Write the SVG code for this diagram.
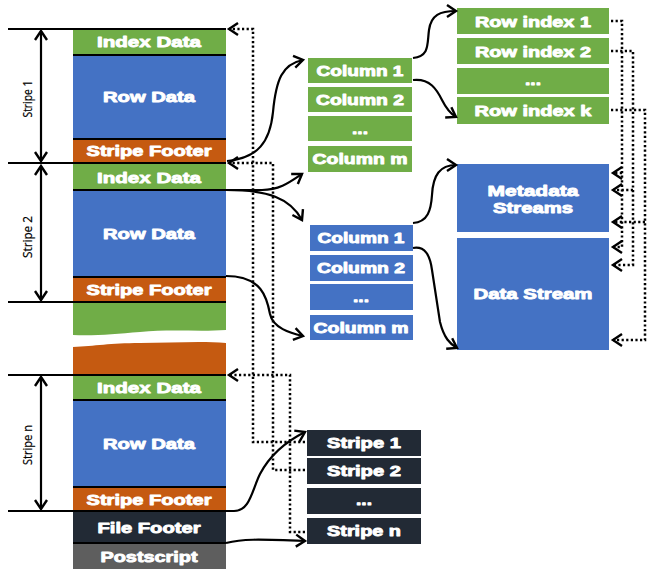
<svg xmlns="http://www.w3.org/2000/svg" width="648" height="569" viewBox="0 0 648 569">
<style>
.g{fill:#70AD47}.b{fill:#4472C4}.o{fill:#C55A11}.d{fill:#222A35}.p{fill:#5E5E5E}
.t{font-family:"Liberation Sans",Arial,sans-serif;font-weight:bold;font-size:15px;fill:#fff;stroke:#fff;stroke-width:0.9;stroke-linejoin:round;text-anchor:middle}
.lab{font-family:"Open Sans","Liberation Sans",sans-serif;font-size:13px;fill:#000;stroke:#000;stroke-width:0.2;text-anchor:middle}
.sep{stroke:#000;stroke-width:2;fill:none}
.hl{stroke:#000;stroke-width:2.2;fill:none}
.c{stroke:#000;stroke-width:2.2;fill:none}
.dot{stroke:#000;stroke-width:2.5;fill:none;stroke-dasharray:2.2 2.4}
</style>
<defs>
<marker id="ah" markerUnits="userSpaceOnUse" markerWidth="18" markerHeight="18" viewBox="-13 -9 15 18" refX="0" refY="0" orient="auto-start-reverse">
<path d="M-9,-6 L0,0 L-9,6" fill="none" stroke="#000" stroke-width="2.4" stroke-linejoin="miter"/>
</marker>
</defs>

<g id="stripe1">
<rect class="g" x="73" y="29" width="153" height="26"/>
<rect class="b" x="73" y="55" width="153" height="84"/>
<rect class="o" x="73" y="139" width="153" height="24"/>
<line class="sep" x1="73" y1="55" x2="226" y2="55"/>
<line class="sep" x1="73" y1="139" x2="226" y2="139"/>
<text class="t" x="149" y="47" textLength="104" lengthAdjust="spacingAndGlyphs">Index Data</text>
<text class="t" x="149" y="102" textLength="92" lengthAdjust="spacingAndGlyphs">Row Data</text>
<text class="t" x="149" y="156" textLength="125" lengthAdjust="spacingAndGlyphs">Stripe Footer</text>
</g>

<g id="stripe2">
<rect class="g" x="73" y="163" width="153" height="27"/>
<rect class="b" x="73" y="190" width="153" height="87"/>
<rect class="o" x="73" y="277" width="153" height="25"/>
<line class="sep" x1="73" y1="190" x2="226" y2="190"/>
<line class="sep" x1="73" y1="277" x2="226" y2="277"/>
<text class="t" x="149" y="183" textLength="104" lengthAdjust="spacingAndGlyphs">Index Data</text>
<text class="t" x="149" y="239" textLength="92" lengthAdjust="spacingAndGlyphs">Row Data</text>
<text class="t" x="149" y="295" textLength="125" lengthAdjust="spacingAndGlyphs">Stripe Footer</text>
</g>

<g id="gap">
<path class="g" d="M73,302 H226 V330 C200,332 170,329 140,332 C115,334 95,336 73,335 Z"/>
<path class="o" d="M73,347 C95,346 110,343 140,343 C170,343 200,341 226,343 V375 H73 Z"/>
</g>

<g id="striven">
<rect class="g" x="73" y="375" width="153" height="25"/>
<rect class="b" x="73" y="400" width="153" height="87"/>
<rect class="o" x="73" y="487" width="153" height="24"/>
<line class="sep" x1="73" y1="400" x2="226" y2="400"/>
<line class="sep" x1="73" y1="487" x2="226" y2="487"/>
<text class="t" x="149" y="393" textLength="104" lengthAdjust="spacingAndGlyphs">Index Data</text>
<text class="t" x="149" y="449" textLength="92" lengthAdjust="spacingAndGlyphs">Row Data</text>
<text class="t" x="149" y="505" textLength="125" lengthAdjust="spacingAndGlyphs">Stripe Footer</text>
</g>

<g id="filefooter">
<rect class="d" x="73" y="511" width="153" height="32"/>
<text class="t" x="149" y="533" textLength="103" lengthAdjust="spacingAndGlyphs">File Footer</text>
</g>
<g id="postscript">
<rect class="p" x="73" y="543" width="153" height="26"/>
<line class="sep" x1="73" y1="543" x2="226" y2="543"/>
<text class="t" x="149" y="562" textLength="97" lengthAdjust="spacingAndGlyphs">Postscript</text>
</g>

<g id="dimensions">
<line class="hl" x1="8" y1="29" x2="226" y2="29"/>
<line class="hl" x1="8" y1="163" x2="226" y2="163"/>
<line class="hl" x1="8" y1="302" x2="226" y2="302"/>
<line class="hl" x1="8" y1="375" x2="226" y2="375"/>
<line class="hl" x1="8" y1="511" x2="226" y2="511"/>
<line class="c" x1="41" y1="31" x2="41" y2="161" marker-start="url(#ah)" marker-end="url(#ah)"/>
<line class="c" x1="41" y1="166" x2="41" y2="300" marker-start="url(#ah)" marker-end="url(#ah)"/>
<line class="c" x1="41" y1="377" x2="41" y2="509" marker-start="url(#ah)" marker-end="url(#ah)"/>
<text class="lab" transform="translate(32,99) rotate(-90)" textLength="37" lengthAdjust="spacingAndGlyphs">Stripe 1</text>
<text class="lab" transform="translate(32,237) rotate(-90)" textLength="42" lengthAdjust="spacingAndGlyphs">Stripe 2</text>
<text class="lab" transform="translate(32,445) rotate(-90)" textLength="40" lengthAdjust="spacingAndGlyphs">Stripe n</text>
</g>

<g id="greencols">
<rect class="g" x="308" y="58" width="104" height="25"/>
<rect class="g" x="308" y="87" width="104" height="25"/>
<rect class="g" x="308" y="116" width="104" height="25"/>
<rect class="g" x="308" y="146" width="104" height="26"/>
<text class="t" x="360" y="76" textLength="87" lengthAdjust="spacingAndGlyphs">Column 1</text>
<text class="t" x="360" y="105" textLength="88" lengthAdjust="spacingAndGlyphs">Column 2</text>
<text class="t" x="360" y="134" textLength="16" lengthAdjust="spacingAndGlyphs">...</text>
<text class="t" x="360" y="164" textLength="95" lengthAdjust="spacingAndGlyphs">Column m</text>
</g>

<g id="bluecols">
<rect class="b" x="310" y="225" width="103" height="26"/>
<rect class="b" x="310" y="255" width="103" height="26"/>
<rect class="b" x="310" y="284" width="103" height="26"/>
<rect class="b" x="310" y="315" width="103" height="25"/>
<text class="t" x="361" y="243" textLength="87" lengthAdjust="spacingAndGlyphs">Column 1</text>
<text class="t" x="361" y="273" textLength="88" lengthAdjust="spacingAndGlyphs">Column 2</text>
<text class="t" x="361" y="302" textLength="16" lengthAdjust="spacingAndGlyphs">...</text>
<text class="t" x="361" y="333" textLength="95" lengthAdjust="spacingAndGlyphs">Column m</text>
</g>

<g id="rowindex">
<rect class="g" x="457" y="8" width="152" height="26"/>
<rect class="g" x="457" y="38" width="152" height="26"/>
<rect class="g" x="457" y="68" width="152" height="26"/>
<rect class="g" x="457" y="97" width="152" height="27"/>
<text class="t" x="533" y="27" textLength="116" lengthAdjust="spacingAndGlyphs">Row index 1</text>
<text class="t" x="533" y="57" textLength="116" lengthAdjust="spacingAndGlyphs">Row index 2</text>
<text class="t" x="533" y="85" textLength="16" lengthAdjust="spacingAndGlyphs">...</text>
<text class="t" x="533" y="116" textLength="117" lengthAdjust="spacingAndGlyphs">Row index k</text>
</g>

<g id="metadata">
<rect class="b" x="457" y="164" width="152" height="68"/>
<text class="t" x="533" y="196" textLength="91" lengthAdjust="spacingAndGlyphs">Metadata</text>
<text class="t" x="533" y="213" textLength="80" lengthAdjust="spacingAndGlyphs">Streams</text>
</g>
<g id="datastream">
<rect class="b" x="457" y="238" width="152" height="112"/>
<text class="t" x="533" y="299" textLength="119" lengthAdjust="spacingAndGlyphs">Data Stream</text>
</g>

<g id="stripelist">
<rect class="d" x="307" y="430" width="114" height="26"/>
<rect class="d" x="307" y="458" width="114" height="26"/>
<rect class="d" x="307" y="488" width="114" height="26"/>
<rect class="d" x="307" y="518" width="114" height="26"/>
<text class="t" x="364" y="448" textLength="74" lengthAdjust="spacingAndGlyphs">Stripe 1</text>
<text class="t" x="364" y="476" textLength="74" lengthAdjust="spacingAndGlyphs">Stripe 2</text>
<text class="t" x="364" y="505" textLength="16" lengthAdjust="spacingAndGlyphs">...</text>
<text class="t" x="364" y="536" textLength="74" lengthAdjust="spacingAndGlyphs">Stripe n</text>
</g>

<g id="connectors">
<path class="c" d="M227,161 C258,158 270,142 273,112 C276,80 282,64 303,60" marker-end="url(#ah)"/>
<path class="c" d="M226,190 L262,190 C280,190 290,182 302,174" marker-end="url(#ah)"/>
<path class="c" d="M226,190 C268,190 290,198 302,220" marker-end="url(#ah)"/>
<path class="c" d="M226,276 C262,276 267,298 270,314 C273,328 290,333 303,336" marker-end="url(#ah)"/>
<path class="c" d="M226,511 L234,511 C250,511 252,490 260,474 C270,455 285,442 305,432" marker-end="url(#ah)"/>
<path class="c" d="M226,543 C242,539 256,539 305,541" marker-end="url(#ah)"/>
<path class="c" d="M413,58 C430,56 427,44 429,30 C431,15 440,11 456,11" marker-end="url(#ah)"/>
<path class="c" d="M413,80 C430,78 437,90 442,100 C447,110 451,114 456,117" marker-end="url(#ah)"/>
<path class="c" d="M413,223 C428,222 431,210 432,195 C433,175 440,165 456,165" marker-end="url(#ah)"/>
<path class="c" d="M413,248 C425,246 430,255 432,270 L440,322 C444,338 450,344 457,348" marker-end="url(#ah)"/>

<path class="dot" d="M305,442 H253 V29 H229" marker-end="url(#ah)"/>
<path class="dot" d="M305,470 H273 V163 H229" marker-end="url(#ah)"/>
<path class="dot" d="M305,532 H290 V375 H229" marker-end="url(#ah)"/>

<path class="dot" d="M611,21 H622 V247 H613" marker-end="url(#ah)"/>
<path class="dot" d="M622,173 H613" marker-end="url(#ah)"/>
<path class="dot" d="M611,51 H633 V265 H613" marker-end="url(#ah)"/>
<path class="dot" d="M633,190 H613" marker-end="url(#ah)"/>
<path class="dot" d="M611,110 H645 V340 H613" marker-end="url(#ah)"/>
<path class="dot" d="M645,222 H613" marker-end="url(#ah)"/>
</g>
</svg>
